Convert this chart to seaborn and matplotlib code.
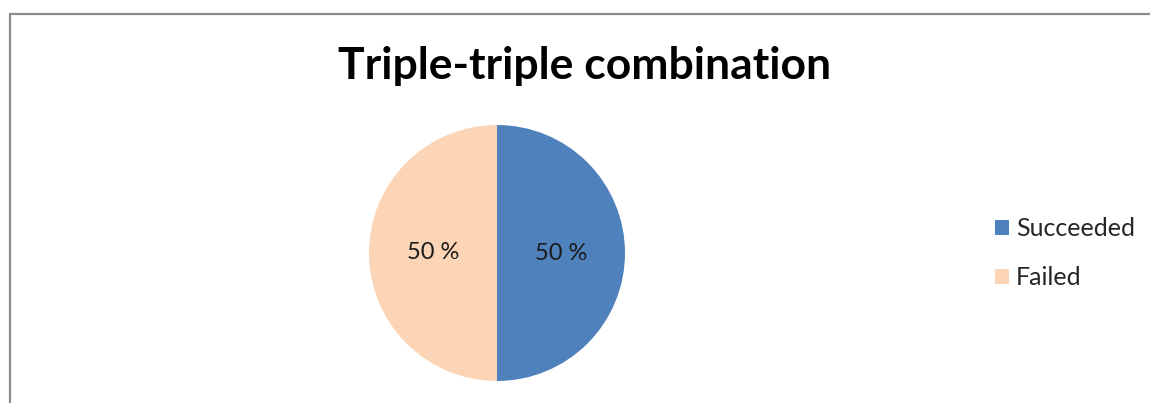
import matplotlib
matplotlib.use("Agg")
import matplotlib.pyplot as plt
from matplotlib.lines import Line2D
from matplotlib.patches import Patch
import seaborn as sns

categories = ["Succeeded", "Failed"]
shares = [50, 50]
colors = ["#4F81BD", "#FBD5B5"]
title = "Triple-triple combination"

sns.set_theme(style="white")
plt.rcParams["font.family"] = ["Lato", "DejaVu Sans"]

W, H = 1150, 403
fig = plt.figure(figsize=(W / 100, H / 100), dpi=100)
fig.patch.set_facecolor("white")

# chart frame (top and left edges visible)
border = "#8c8c8c"
fig.add_artist(Line2D([10 / W, 1.0], [1 - 13.5 / H, 1 - 13.5 / H], color=border, lw=1.6,
                      transform=fig.transFigure))
fig.add_artist(Line2D([10 / W, 10 / W], [1 - 13.5 / H, 0.0], color=border, lw=1.6,
                      transform=fig.transFigure))

# pie axes: center (497, 253) px, radius 128 px
cx, cy, r = 497, 253, 128
ax = fig.add_axes([(cx - r) / W, (H - cy - r) / H, 2 * r / W, 2 * r / H])
wedges, texts, autotexts = ax.pie(
    shares, colors=colors, startangle=90, counterclock=False,
    autopct=lambda p: f"{p:.0f} %", pctdistance=0.5, radius=1.0,
    wedgeprops=dict(linewidth=0, edgecolor="none"),
    textprops=dict(fontsize=17, color="#1a1a1a"),
)
ax.set_xlim(-1, 1)
ax.set_ylim(-1, 1)
ax.set_aspect("auto")
ax.axis("off")

fig.text(585 / W, 1 - 66 / H, title, ha="center", va="center",
         fontsize=32, fontweight="bold", color="black")

handles = [Patch(facecolor=c, edgecolor="none") for c in colors]
fig.legend(handles, categories, loc="center left",
           bbox_to_anchor=(995 / W, 1 - 253 / H), frameon=False,
           fontsize=18, handlelength=0.55, handleheight=0.55,
           handletextpad=0.3, labelspacing=1.05, borderaxespad=0,
           borderpad=0)

fig.savefig("out.png", dpi=100, facecolor="white")
